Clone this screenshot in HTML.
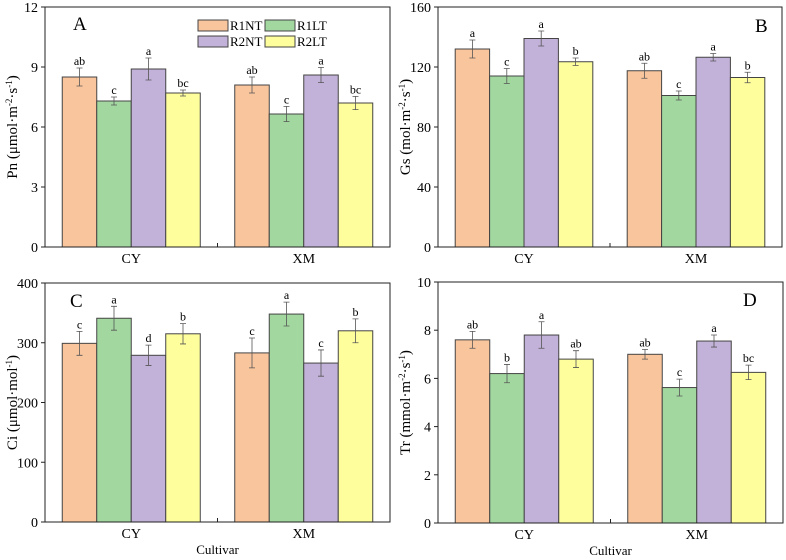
<!DOCTYPE html>
<html><head><meta charset="utf-8"><style>
body{margin:0;background:#fff}
svg{display:block;font-family:"Liberation Serif",serif}
</style></head><body>
<svg id="chart" width="786" height="560"></svg>
<script>
const categories=["CY","XM"];
const seriesNames=["R1NT","R1LT","R2NT","R2LT"];
const colors=["#f9c59c","#a2d8a0","#c2b1d8","#fefe9c"];
const pnCY=[8.5,7.3,8.9,7.7], pnCYErr=[0.45,0.2,0.55,0.15], pnCYLet=["ab","c","a","bc"];
const pnXM=[8.1,6.65,8.6,7.2], pnXMErr=[0.4,0.38,0.38,0.33], pnXMLet=["ab","c","a","bc"];
const gsCY=[132,114,139,123.5], gsCYErr=[6,5,5,2.5], gsCYLet=["a","c","a","b"];
const gsXM=[117.5,101,126.5,113], gsXMErr=[5,3,2.5,3.5], gsXMLet=["ab","c","a","b"];
const ciCY=[299,341,279,315], ciCYErr=[20,20,17,17], ciCYLet=["c","a","d","b"];
const ciXM=[283,348,266,320], ciXMErr=[25,20,22,20], ciXMLet=["c","a","c","b"];
const trCY=[7.6,6.2,7.8,6.8], trCYErr=[0.35,0.38,0.55,0.35], trCYLet=["ab","b","a","ab"];
const trXM=[7.0,5.62,7.55,6.25], trXMErr=[0.2,0.35,0.25,0.3], trXMLet=["ab","c","a","bc"];
const pnTicks=[0,3,6,9,12], gsTicks=[0,40,80,120,160], ciTicks=[0,100,200,300,400], trTicks=[0,2,4,6,8,10];

const NS="http://www.w3.org/2000/svg";
const svg=document.getElementById("chart");
function mk(tag,attrs,parent,text){const e=document.createElementNS(NS,tag);for(const k in attrs)e.setAttribute(k,attrs[k]);if(text!==undefined)e.textContent=text;(parent||svg).appendChild(e);return e;}

function panel(o){
  const g=mk("g",{});
  
  
  const ymax=o.ticks[o.ticks.length-1];
  const y=v=>o.b-(v/ymax)*(o.b-o.t);
  const bw=(o.r-o.l)*0.1;
  const groupStart=[o.l+(o.r-o.l)*0.05,o.l+(o.r-o.l)*0.55];
  const data=[[o.cy,o.cyE,o.cyL],[o.xm,o.xmE,o.xmL]];
  data.forEach((d,gi)=>{
    d[0].forEach((v,i)=>{
      const x=groupStart[gi]+i*bw;
      const r=mk("rect",{x:x,y:y(v),width:bw,height:y(0)-y(v),fill:colors[i],stroke:"#444","stroke-width":1},g);
      
      
      const cx=x+bw/2,e=d[1][i];
      const eb=mk("path",{d:`M${cx},${y(v-e)}V${y(v+e)}M${cx-3},${y(v-e)}h6M${cx-3},${y(v+e)}h6`,stroke:"#555","stroke-width":0.8,fill:"none"},g);
      
      
      const lt=mk("text",{x:cx,y:y(v+e)-3,"text-anchor":"middle","font-size":12},g,d[2][i]);
      
      
    });
  });
  const fr=mk("rect",{x:o.l,y:o.t,width:o.r-o.l,height:o.b-o.t,fill:"none",stroke:"#222","stroke-width":1},g);
  
  
  o.ticks.forEach(t=>{
    mk("line",{x1:o.l-4,x2:o.l,y1:y(t),y2:y(t),stroke:"#222"},g);
    const tl=mk("text",{x:o.l-7,y:y(t)+5,"text-anchor":"end","font-size":14},g,t);
    
    
  });
  const mid=(o.l+o.r)/2;
  mk("line",{x1:mid,x2:mid,y1:o.b,y2:o.b-4,stroke:"#222"},g);
  categories.forEach((c,gi)=>{
    const cx=groupStart[gi]+2*bw;
    const xl=mk("text",{x:cx,y:o.b+16,"text-anchor":"middle","font-size":14},g,c);
    
    
  });
  const yt=mk("text",{transform:`translate(${o.l-28},${(o.t+o.b)/2}) rotate(-90)`,"text-anchor":"middle","font-size":15},g);
  
  
  yt.innerHTML=o.ytitle;
  const pl=mk("text",{x:o.lx,y:o.ly,"font-size":19},g,o.label);
  
  
  if(o.xtitle){
    const xt=mk("text",{x:mid,y:o.b+32,"text-anchor":"middle","font-size":13},g,"Cultivar");
    
    
  }
  if(o.legend){
    const pos=[[198,21],[265,21],[198,37],[265,37]];
    seriesNames.forEach((s,i)=>{
      const lg=mk("g",{},g);
      
      
      mk("rect",{x:pos[i][0],y:pos[i][1]-1,width:30,height:11,fill:colors[i],stroke:"#444"},lg);
      mk("text",{x:pos[i][0]+32,y:pos[i][1]+9,"font-size":13},lg,s);
    });
  }
}
const sup="<tspan baseline-shift=\"super\" font-size=\"9\">";
panel({name:"panel-a-pn",l:45,r:390,t:7,b:247,ticks:pnTicks,cy:pnCY,cyE:pnCYErr,cyL:pnCYLet,xm:pnXM,xmE:pnXMErr,xmL:pnXMLet,label:"A",lx:73,ly:30,legend:true,
  ytitle:"Pn (μmol·m"+sup+"-2</tspan>·s"+sup+"-1</tspan>)"});
panel({name:"panel-b-gs",l:438,r:782,t:7,b:247,ticks:gsTicks,cy:gsCY,cyE:gsCYErr,cyL:gsCYLet,xm:gsXM,xmE:gsXMErr,xmL:gsXMLet,label:"B",lx:755,ly:32,
  ytitle:"Gs (mol·m"+sup+"-2</tspan>·s"+sup+"-1</tspan>)"});
panel({name:"panel-c-ci",l:45,r:390,t:283,b:522,ticks:ciTicks,cy:ciCY,cyE:ciCYErr,cyL:ciCYLet,xm:ciXM,xmE:ciXMErr,xmL:ciXMLet,label:"C",lx:70,ly:307,xtitle:true,
  ytitle:"Ci (μmol·mol"+sup+"-1</tspan>)"});
panel({name:"panel-d-tr",l:438,r:783,t:282,b:523,ticks:trTicks,cy:trCY,cyE:trCYErr,cyL:trCYLet,xm:trXM,xmE:trXMErr,xmL:trXMLet,label:"D",lx:743,ly:306,xtitle:true,
  ytitle:"Tr (mmol·m"+sup+"-2</tspan>·s"+sup+"-1</tspan>)"});
</script>
</body></html>
